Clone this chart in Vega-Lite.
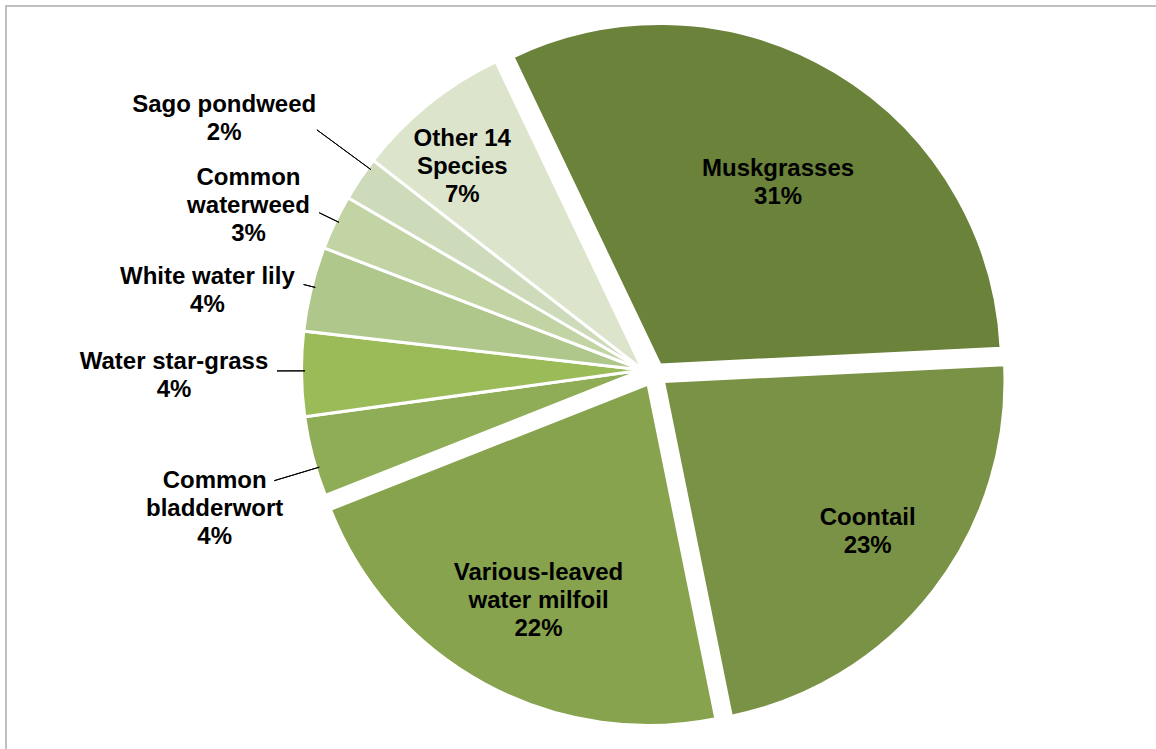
{
  "$schema": "https://vega.github.io/schema/vega-lite/v6.json",
  "width": 1160,
  "height": 760,
  "autosize": {"type": "none"},
  "padding": {"left": 6, "top": 6, "right": -10, "bottom": -17},
  "background": "white",
  "view": {"stroke": "#BFBFBF", "strokeWidth": 2},
  "params": [
    {"name": "shiftX", "value": 57},
    {"name": "shiftY", "value": -16},
    {"name": "explode", "expr": "{'Muskgrasses': [17, -5], 'Coontail': [20.5, 11.5], 'Various-leaved water milfoil': [5, 14]}"},
    {"name": "labelPos", "expr": "{'Muskgrasses': [0.034, 218], 'Coontail': [-0.029, 253], 'Various-leaved water milfoil': [-0.028, 242], 'Common bladderwort': [-0.055, 450], 'Water star-grass': [0.003, 469], 'White water lily': [-0.057, 443], 'Common waterweed': [-0.049, 428], 'Sago pondweed': [-0.0525, 489], 'Other 14 Species': [-0.046, 273]}"},
    {"name": "leader", "expr": "{'Common bladderwort': [-0.035, 385], 'Water star-grass': [0.009, 366], 'White water lily': [0.007, 350], 'Common waterweed': [0.005, 360], 'Sago pondweed': [0.04, 405]}"}
  ],
  "data": {
    "values": [
      {"idx": 1, "species": "Muskgrasses", "pct": 31.3, "label": "Muskgrasses\n31%"},
      {"idx": 2, "species": "Coontail", "pct": 22.6, "label": "Coontail\n23%"},
      {"idx": 3, "species": "Various-leaved water milfoil", "pct": 22.2, "label": "Various-leaved\nwater milfoil\n22%"},
      {"idx": 4, "species": "Common bladderwort", "pct": 3.8, "label": "Common\nbladderwort\n4%"},
      {"idx": 5, "species": "Water star-grass", "pct": 4.0, "label": "Water star-grass\n4%"},
      {"idx": 6, "species": "White water lily", "pct": 4.0, "label": "White water lily\n4%"},
      {"idx": 7, "species": "Common waterweed", "pct": 2.6, "label": "Common\nwaterweed\n3%"},
      {"idx": 8, "species": "Sago pondweed", "pct": 2.1, "label": "Sago pondweed\n2%"},
      {"idx": 9, "species": "Other 14 Species", "pct": 7.4, "label": "Other 14\nSpecies\n7%"}
    ]
  },
  "encoding": {
    "theta": {"field": "pct", "type": "quantitative", "stack": true, "scale": {"domain": [0, 100], "range": [-0.4451, 5.8381]}},
    "order": {"field": "idx", "type": "quantitative"}
  },
  "layer": [
    {
      "mark": {
        "type": "arc",
        "radius": 341.5,
        "stroke": "white",
        "strokeWidth": 3,
        "xOffset": {"expr": "shiftX + (explode[datum.species] ? explode[datum.species][0] : 0)"},
        "yOffset": {"expr": "shiftY + (explode[datum.species] ? explode[datum.species][1] : 0)"}
      },
      "encoding": {
        "color": {
          "field": "species",
          "type": "nominal",
          "legend": null,
          "scale": {
            "domain": ["Muskgrasses", "Coontail", "Various-leaved water milfoil", "Common bladderwort", "Water star-grass", "White water lily", "Common waterweed", "Sago pondweed", "Other 14 Species"],
            "range": ["#6B823B", "#7A9245", "#87A34E", "#8FAD56", "#9BBB59", "#AFC78A", "#C2D4A4", "#CEDBBA", "#DCE5CB"]
          }
        }
      }
    },
    {
      "mark": {
        "type": "arc",
        "fill": null,
        "stroke": "black",
        "strokeWidth": 1,
        "padAngle": 1,
        "radius": {"expr": "leader[datum.species] ? leader[datum.species][1] : 338"},
        "radius2": 338,
        "thetaOffset": {"expr": "leader[datum.species] ? leader[datum.species][0] : 0"},
        "strokeOpacity": {"expr": "leader[datum.species] ? 1 : 0"},
        "xOffset": {"expr": "shiftX"},
        "yOffset": {"expr": "shiftY"}
      }
    },
    {
      "mark": {
        "type": "text",
        "font": "Liberation Sans",
        "fontWeight": "bold",
        "fontSize": 24,
        "lineHeight": 28,
        "lineBreak": "\n",
        "align": "center",
        "baseline": "middle",
        "color": "black",
        "radius": {"expr": "labelPos[datum.species][1]"},
        "thetaOffset": {"expr": "labelPos[datum.species][0]"},
        "dy": {"expr": "-(length(split(datum.label, '\\n')) - 1) * 14 + 1.5"},
        "xOffset": {"expr": "shiftX + (explode[datum.species] ? explode[datum.species][0] : 0)"},
        "yOffset": {"expr": "shiftY + (explode[datum.species] ? explode[datum.species][1] : 0)"}
      },
      "encoding": {
        "text": {"field": "label", "type": "nominal"}
      }
    }
  ]
}
